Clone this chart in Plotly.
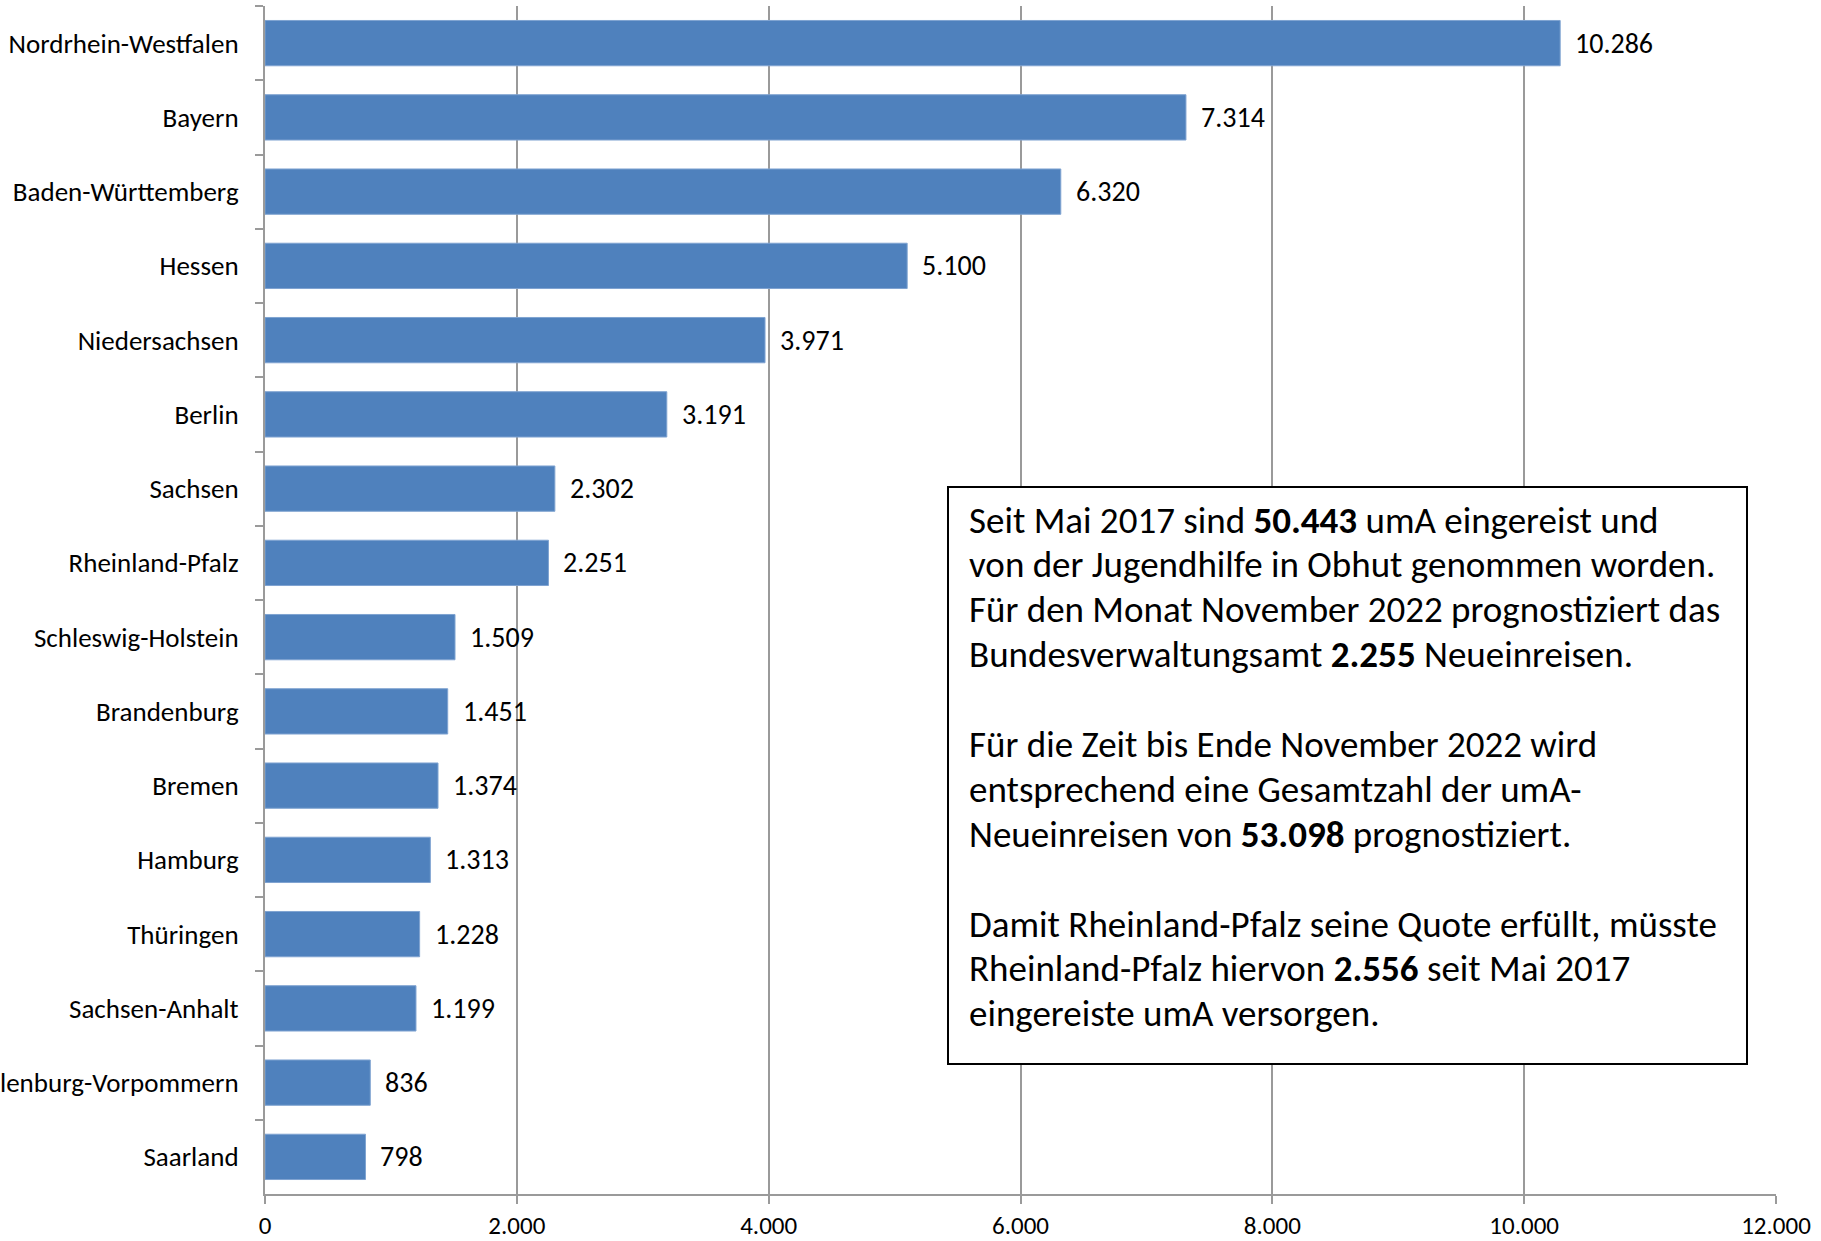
import plotly.graph_objects as go

states = ["Nordrhein-Westfalen", "Bayern", "Baden-Württemberg", "Hessen", "Niedersachsen",
          "Berlin", "Sachsen", "Rheinland-Pfalz", "Schleswig-Holstein", "Brandenburg",
          "Bremen", "Hamburg", "Thüringen", "Sachsen-Anhalt", "Mecklenburg-Vorpommern", "Saarland"]
values = [10286, 7314, 6320, 5100, 3971, 3191, 2302, 2251, 1509, 1451, 1374, 1313, 1228, 1199, 836, 798]

box_lines = [
    "Seit Mai 2017 sind <b>50.443</b> umA eingereist und",
    "von der Jugendhilfe in Obhut genommen worden.",
    "Für den Monat November 2022 prognostiziert das",
    "Bundesverwaltungsamt <b>2.255</b> Neueinreisen.",
    "",
    "Für die Zeit bis Ende November 2022 wird",
    "entsprechend eine Gesamtzahl der umA-",
    "Neueinreisen von <b>53.098</b> prognostiziert.",
    "",
    "Damit Rheinland-Pfalz seine Quote erfüllt, müsste",
    "Rheinland-Pfalz hiervon <b>2.556</b> seit Mai 2017",
    "eingereiste umA versorgen.",
]

W, H = 1821, 1241
L, R, T, B = 265, 45, 6, 47
PW, PH = W - L - R, H - T - B
FONT = "Calibri, Carlito, Lato, sans-serif"
BLUE = "#4F81BD"
GRID = "#9a9a9a"


def px(x):
    return (x - L) / PW


def py(y):
    return 1 - (y - T) / PH


fig = go.Figure()
fig.add_trace(go.Bar(
    x=values, y=states, orientation="h",
    marker=dict(color=BLUE, line=dict(color="#7fa3d1", width=1)),
    hoverinfo="x+y",
))

annotations = []
for s, v in zip(states, values):
    annotations.append(dict(
        x=v, y=s, xref="x", yref="y", text=f"{v:,}".replace(",", "."),
        showarrow=False, xanchor="left", yanchor="middle", xshift=13,
        font=dict(family=FONT, size=28, color="#000"),
    ))

# text box
line_x = px(967)
for i, t in enumerate(box_lines):
    if not t:
        continue
    annotations.append(dict(
        x=line_x, y=py(520 + 44.9 * i), xref="paper", yref="paper", text=t,
        showarrow=False, xanchor="left", yanchor="middle",
        font=dict(family=FONT, size=37, color="#000"),
    ))

fig.update_layout(
    width=W, height=H,
    margin=dict(l=L, r=R, t=T, b=B, autoexpand=False),
    paper_bgcolor="white", plot_bgcolor="white",
    separators=",.",
    bargap=0.39,
    showlegend=False,
    font=dict(family=FONT, size=27, color="#000"),
    annotations=annotations,
    shapes=[dict(type="rect", xref="paper", yref="paper",
                 x0=px(948), x1=px(1747), y0=py(1064), y1=py(487),
                 line=dict(color="#000", width=2), fillcolor="white", layer="above")],
)
fig.update_xaxes(
    range=[0, 12000], dtick=2000, tick0=0, tickformat=",d",
    showgrid=True, gridcolor=GRID, gridwidth=2,
    showline=True, linecolor=GRID, linewidth=2,
    ticks="outside", ticklen=8, tickcolor=GRID, tickwidth=2,
    tickfont=dict(family=FONT, size=25, color="#000"),
    ticklabelstandoff=0,
    zeroline=False, fixedrange=True,
)
fig.update_yaxes(
    autorange="reversed", categoryorder="array", categoryarray=states,
    showline=True, linecolor=GRID, linewidth=2,
    ticks="outside", ticklen=8, tickcolor=GRID, tickwidth=2, tickson="boundaries",
    tickfont=dict(family=FONT, size=27, color="#000"),
    ticklabelstandoff=19, automargin=False, showgrid=False, fixedrange=True,
)

fig.write_html("out.html", config={"displayModeBar": False},
               post_script="document.body.style.margin='0';document.body.style.overflow='hidden';")
